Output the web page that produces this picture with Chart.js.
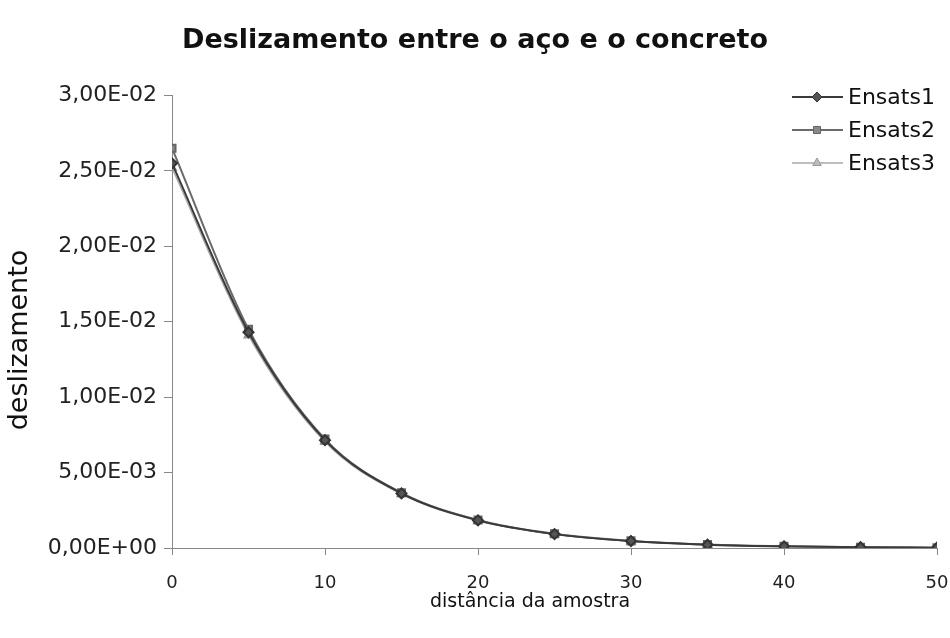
<!DOCTYPE html>
<html>
<head>
<meta charset="utf-8">
<script src="https://cdn.jsdelivr.net/npm/chart.js@4/dist/chart.umd.min.js"></script>
<style>
  html, body { margin: 0; padding: 0; background: #fff; }
  #wrap { width: 950px; height: 638px; }
</style>
</head>
<body>
<div id="wrap"><canvas id="c" width="950" height="638"></canvas></div>
<script>
// distância da amostra
const distancias = [0, 5, 10, 15, 20, 25, 30, 35, 40, 45, 50];
// deslizamento medido em cada ensaio
const ensats1 = [0.0255, 0.0143, 0.00715, 0.00362, 0.00183, 0.00092, 0.00046, 0.00022, 0.00011, 0.00005, 0.00002];
const ensats2 = [0.0265, 0.0145, 0.00722, 0.00366, 0.00186, 0.00094, 0.00047, 0.00023, 0.00011, 0.00005, 0.00002];
const ensats3 = [0.0252, 0.0141, 0.00705, 0.00358, 0.00181, 0.00091, 0.00045, 0.00022, 0.00010, 0.00005, 0.00002];
const yTicks = [0, 0.005, 0.01, 0.015, 0.02, 0.025, 0.03];
const xTicks = [0, 10, 20, 30, 40, 50];

const FONT = "'DejaVu Sans', Verdana, sans-serif";

function pts(ys) { return distancias.map((x, i) => ({ x: x, y: ys[i] })); }

function sci(v) {
  if (v === 0) return '0,00E+00';
  const e = Math.floor(Math.log10(Math.abs(v)) + 1e-9);
  const m = v / Math.pow(10, e);
  const sign = e < 0 ? '-' : '+';
  return m.toFixed(2).replace('.', ',') + 'E' + sign + String(Math.abs(e)).padStart(2, '0');
}

// legend with line + marker samples, and both axis titles
const extras = {
  id: 'extras',
  afterDraw(chart) {
    const ctx = chart.ctx;
    ctx.save();
    chart.data.datasets.forEach((ds, i) => {
      const y = 97 + i * 33;
      ctx.strokeStyle = ds.borderColor;
      ctx.lineWidth = ds.borderWidth;
      ctx.beginPath();
      ctx.moveTo(792, y);
      ctx.lineTo(843, y);
      ctx.stroke();
      ctx.fillStyle = ds.pointBackgroundColor;
      ctx.strokeStyle = ds.pointBorderColor;
      ctx.lineWidth = 1;
      Chart.helpers.drawPoint(ctx, { pointStyle: ds.pointStyle, radius: ds.pointRadius, borderWidth: 1 }, 817, y);
      ctx.fillStyle = '#111';
      ctx.font = '22px ' + FONT;
      ctx.textAlign = 'left';
      ctx.textBaseline = 'middle';
      ctx.fillText(ds.label, 848, y + 1);
    });
    ctx.fillStyle = '#111';
    ctx.textAlign = 'center';
    ctx.textBaseline = 'middle';
    ctx.font = '19px ' + FONT;
    ctx.fillText('distância da amostra', 530, 602);
    ctx.translate(20, 340);
    ctx.rotate(-Math.PI / 2);
    ctx.font = '27px ' + FONT;
    ctx.fillText('deslizamento', 0, 0);
    ctx.restore();
  }
};

new Chart(document.getElementById('c'), {
  type: 'line',
  data: {
    datasets: [
      {
        label: 'Ensats1', data: pts(ensats1),
        borderColor: '#3a3a3a', borderWidth: 2,
        pointStyle: 'rectRot', pointRadius: 5,
        pointBackgroundColor: '#555', pointBorderColor: '#333'
      },
      {
        label: 'Ensats2', data: pts(ensats2),
        borderColor: '#6a6a6a', borderWidth: 2,
        pointStyle: 'rect', pointRadius: 5,
        pointBackgroundColor: '#888', pointBorderColor: '#666'
      },
      {
        label: 'Ensats3', data: pts(ensats3),
        borderColor: '#a8a8a8', borderWidth: 1.5,
        pointStyle: 'triangle', pointRadius: 5,
        pointBackgroundColor: '#bbb', pointBorderColor: '#999'
      }
    ]
  },
  options: {
    responsive: false,
    animation: false,
    layout: { padding: { left: 0, right: 0, top: 0, bottom: 0 } },
    elements: { line: { tension: 0.4, cubicInterpolationMode: 'monotone' } },
    plugins: {
      legend: { display: false },
      tooltip: { enabled: false },
      title: {
        display: true,
        text: 'Deslizamento entre o aço e o concreto',
        color: '#111',
        font: { family: FONT, size: 27, weight: 'bold' },
        padding: { top: 25, bottom: 38 }
      }
    },
    scales: {
      x: {
        type: 'linear', min: 0, max: 50,
        afterFit(s) { s.height = 90; s.paddingLeft = 0; s.paddingRight = 13; },
        afterBuildTicks(s) { s.ticks = xTicks.map(v => ({ value: v })); },
        grid: { display: true, drawOnChartArea: false, tickLength: 7, color: '#888' },
        border: { color: '#888', width: 1 },
        ticks: { color: '#222', font: { family: FONT, size: 18 }, padding: 18, maxRotation: 0 }
      },
      y: {
        min: 0, max: 0.03,
        afterFit(s) { s.width = 172; },
        afterBuildTicks(s) { s.ticks = yTicks.map(v => ({ value: v })); },
        grid: { display: true, drawOnChartArea: false, tickLength: 8, color: '#888' },
        border: { color: '#888', width: 1 },
        ticks: { color: '#222', font: { family: FONT, size: 22 }, padding: 7, callback: v => sci(v) }
      }
    }
  },
  plugins: [extras]
});
</script>
</body>
</html>
